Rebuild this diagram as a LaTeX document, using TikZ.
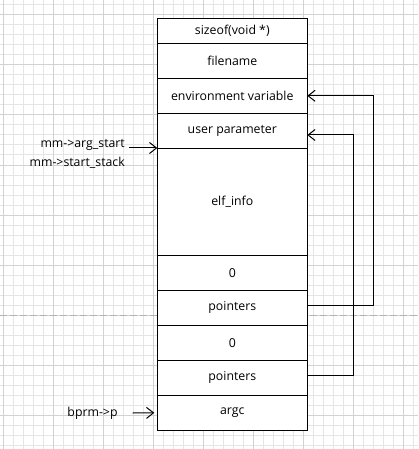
\documentclass[tikz,border=0pt]{standalone}
\usepackage{fontspec}
\setmainfont{Open Sans}
\usetikzlibrary{arrows.meta, positioning}

\begin{document}
\begin{tikzpicture}[x=1pt,y=-1pt,>={Straight Barb[length=7pt,width=11pt]},
    cell/.style={draw,fill=white,line width=1pt,minimum width=150pt,minimum height=35pt,
      inner sep=0pt,outer sep=0pt,font=\fontsize{12.3}{14}\selectfont},
    lbl/.style={font=\fontsize{12.3}{14}\selectfont,inner sep=0pt},
    minor/.style={gray!20,line width=1pt},
    major/.style={gray!35,line width=1pt},
    link/.style={line width=1pt}]

  \useasboundingbox (0,0) rectangle (418,449);
  \fill[white] (0,0) rectangle (418,449);
  % background grid
  \foreach \x in {3,13,...,413} \draw[minor] (\x,0) -- (\x,449);
  \foreach \y in {5,15,...,445} \draw[minor] (0,\y) -- (418,\y);
  \foreach \x in {3,53,...,403} \draw[major] (\x,0) -- (\x,449);
  \foreach \y in {15,65,...,415} \draw[major] (0,\y) -- (418,\y);

  \coordinate (cutl) at (0,315);
  \coordinate (cutr) at (418,315);
  \draw[gray!60,line width=1pt,dash pattern=on 7pt off 3pt] (cutl) -- (cutr);

  % the stack
  \node[cell,minimum height=25pt] (sz) at (232.3,30.8) {sizeof(void *)};
  \node[cell] (fname) [below=0pt of sz] {filename};
  \node[cell] (env) [below=0pt of fname] {environment variable};
  \node[cell] (usr) [below=0pt of env] {user parameter};
  \node[cell,minimum height=107pt] (elf) [below=0pt of usr] {elf\_info};
  \node[cell] (zerohi) [below=0pt of elf] {0};
  \node[cell] (ptrhi) [below=0pt of zerohi] {pointers};
  \node[cell] (zerolo) [below=0pt of ptrhi] {0};
  \node[cell] (ptrlo) [below=0pt of zerolo] {pointers};
  \node[cell] (argc) [below=0pt of ptrlo] {argc};

  \node[lbl,anchor=east] (argstart) at (125,145) {mm->arg\_start};
  \node[lbl,anchor=east] (startstack) at (125,163) {mm->start\_stack};
  \node[lbl] (bprm) at (92.5,413) {bprm->p};

  \coordinate (argtail) at (129,148);
  \coordinate (envbend) at (373,305);
  \coordinate (usrbend) at (353,375);
  \coordinate (usrtop) at (353,135);

  \draw[link,->] (argtail) -- (argtail -| usr.west);
  \draw[link,->] ([xshift=15pt]bprm.east) -- ([xshift=-3pt]argc.west);
  \draw[link,->] (ptrhi.east |- envbend) -- (envbend) |- (env.east);
  \draw[link,->] (ptrlo.east |- usrbend) -- (usrbend) -- (usrtop) -- (usrtop -| usr.east);
\end{tikzpicture}
\end{document}
